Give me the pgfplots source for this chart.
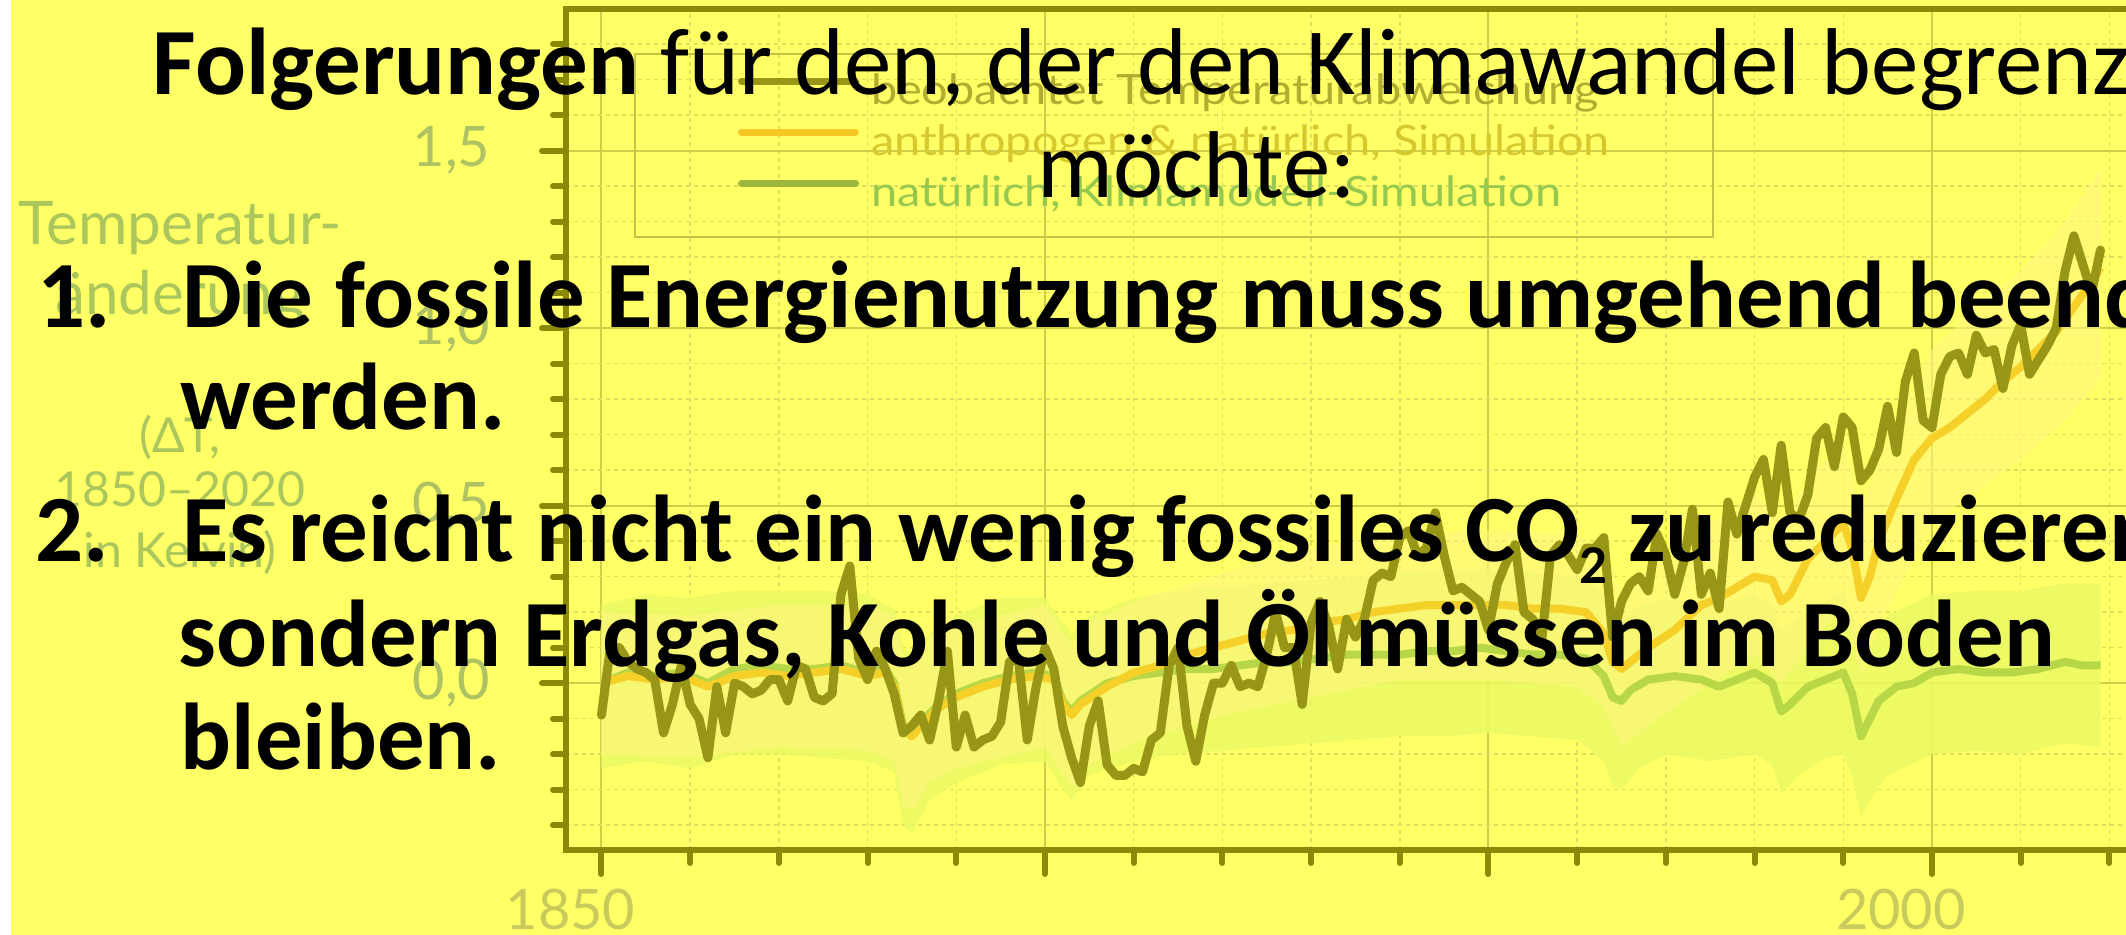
\documentclass[border=0pt]{standalone}
\usepackage{fontspec}
\setmainfont{Carlito}
\newfontfamily\lato{Lato}
\newfontfamily\latoleg[FakeStretch=1.12]{Lato}
\usepackage{pgfplots}
\usepackage{pgfplotstable}
\pgfplotsset{compat=1.18}

\definecolor{bgyellow}{RGB}{255,255,102}
\definecolor{axisol}{RGB}{138,138,8}
\definecolor{gridmaj}{RGB}{206,206,72}
\definecolor{gridmin}{RGB}{222,222,96}
\definecolor{ticklab}{RGB}{174,194,100}
\definecolor{xticklab}{RGB}{200,202,92}
\definecolor{ylab}{RGB}{170,198,92}
\definecolor{obsline}{RGB}{152,150,22}
\definecolor{antline}{RGB}{245,208,40}
\definecolor{natline}{RGB}{184,215,70}
\definecolor{legobs}{RGB}{178,172,48}
\definecolor{legant}{RGB}{215,200,45}
\definecolor{legnat}{RGB}{150,200,80}
\definecolor{legbox}{RGB}{195,195,70}
\definecolor{bandnat}{RGB}{236,250,100}
\definecolor{bandant}{RGB}{255,246,125}

% beobachtete Temperaturabweichung (K, relativ zu 1850-1900)
\pgfplotstableread{
year val
1850 -0.09
1851 0.10
1852 0.10
1853 0.06
1854 0.04
1855 0.03
1856 0.01
1857 -0.14
1858 -0.06
1859 0.05
1860 -0.06
1861 -0.10
1862 -0.21
1863 -0.01
1864 -0.14
1865 0.00
1866 -0.01
1867 -0.03
1868 -0.02
1869 0.01
1870 0.01
1871 -0.05
1872 0.05
1873 0.04
1874 -0.04
1875 -0.05
1876 -0.03
1877 0.25
1878 0.33
1879 0.07
1880 0.01
1881 0.09
1882 0.04
1883 -0.03
1884 -0.14
1885 -0.12
1886 -0.09
1887 -0.16
1888 -0.05
1889 0.09
1890 -0.18
1891 -0.09
1892 -0.18
1893 -0.16
1894 -0.15
1895 -0.11
1896 0.06
1897 0.07
1898 -0.16
1899 -0.01
1900 0.10
1901 0.04
1902 -0.12
1903 -0.21
1904 -0.28
1905 -0.12
1906 -0.05
1907 -0.23
1908 -0.26
1909 -0.26
1910 -0.24
1911 -0.25
1912 -0.16
1913 -0.14
1914 0.05
1915 0.10
1916 -0.12
1917 -0.22
1918 -0.09
1919 0.00
1920 0.00
1921 0.05
1922 -0.01
1923 0.00
1924 -0.01
1925 0.08
1926 0.20
1927 0.10
1928 0.10
1929 -0.06
1930 0.17
1931 0.23
1932 0.16
1933 0.04
1934 0.18
1935 0.13
1936 0.18
1937 0.29
1938 0.31
1939 0.30
1940 0.41
1941 0.43
1942 0.36
1943 0.38
1944 0.48
1945 0.36
1946 0.26
1947 0.27
1948 0.25
1949 0.23
1950 0.15
1951 0.28
1952 0.34
1953 0.39
1954 0.20
1955 0.18
1956 0.12
1957 0.36
1958 0.39
1959 0.36
1960 0.32
1961 0.38
1962 0.38
1963 0.41
1964 0.13
1965 0.23
1966 0.28
1967 0.30
1968 0.26
1969 0.42
1970 0.36
1971 0.25
1972 0.34
1973 0.49
1974 0.25
1975 0.31
1976 0.21
1977 0.51
1978 0.42
1979 0.50
1980 0.58
1981 0.63
1982 0.48
1983 0.67
1984 0.48
1985 0.46
1986 0.53
1987 0.69
1988 0.72
1989 0.61
1990 0.75
1991 0.72
1992 0.57
1993 0.60
1994 0.66
1995 0.78
1996 0.65
1997 0.85
1998 0.93
1999 0.74
2000 0.72
2001 0.87
2002 0.92
2003 0.93
2004 0.87
2005 0.98
2006 0.93
2007 0.94
2008 0.83
2009 0.95
2010 1.01
2011 0.87
2012 0.91
2013 0.95
2014 1.00
2015 1.16
2016 1.26
2017 1.18
2018 1.10
2019 1.22
}\obs

% anthropogen & natuerlich, Simulation (Mittel)
\pgfplotstableread{
year val
1850 0.00
1853 0.02
1856 0.01
1859 0.02
1862 -0.01
1865 0.02
1868 0.03
1871 0.02
1874 0.03
1877 0.04
1880 0.02
1882 0.03
1883 -0.01
1884 -0.13
1885 -0.15
1886 -0.12
1888 -0.07
1890 -0.04
1893 -0.01
1896 0.01
1899 0.02
1901 0.01
1902 -0.06
1903 -0.09
1904 -0.06
1907 -0.01
1910 0.03
1913 0.05
1916 0.08
1919 0.10
1922 0.12
1925 0.14
1928 0.15
1931 0.17
1934 0.18
1937 0.20
1940 0.21
1943 0.22
1946 0.22
1949 0.22
1952 0.22
1955 0.21
1958 0.21
1961 0.20
1963 0.14
1964 0.06
1965 0.04
1966 0.06
1968 0.10
1971 0.15
1974 0.22
1976 0.24
1978 0.27
1980 0.30
1982 0.29
1983 0.23
1984 0.25
1986 0.35
1988 0.40
1990 0.45
1991 0.38
1992 0.24
1993 0.30
1994 0.40
1996 0.52
1998 0.63
2000 0.69
2002 0.72
2004 0.76
2006 0.80
2008 0.85
2010 0.89
2012 0.94
2014 0.99
2016 1.06
2018 1.13
2019 1.17
}\ant

% natuerlich, Klimamodell-Simulation (Mittel)
\pgfplotstableread{
year val
1850 0.00
1853 0.03
1856 0.02
1859 0.03
1862 0.00
1865 0.04
1868 0.05
1871 0.04
1874 0.04
1877 0.05
1880 0.03
1882 0.04
1883 0.00
1884 -0.12
1885 -0.14
1886 -0.11
1888 -0.06
1890 -0.03
1893 0.00
1896 0.02
1899 0.03
1901 0.02
1902 -0.05
1903 -0.08
1904 -0.05
1907 0.00
1910 0.02
1913 0.03
1916 0.04
1919 0.04
1922 0.05
1925 0.06
1928 0.06
1931 0.07
1934 0.08
1937 0.08
1940 0.08
1943 0.09
1946 0.09
1949 0.10
1952 0.09
1955 0.08
1958 0.08
1961 0.07
1963 0.02
1964 -0.04
1965 -0.05
1966 -0.02
1968 0.01
1971 0.02
1974 0.01
1976 -0.01
1978 0.01
1980 0.03
1982 0.00
1983 -0.08
1984 -0.06
1986 -0.01
1988 0.01
1990 0.03
1991 -0.03
1992 -0.15
1993 -0.10
1994 -0.05
1996 -0.01
1998 0.00
2000 0.03
2003 0.04
2006 0.03
2009 0.03
2012 0.04
2015 0.06
2017 0.05
2019 0.05
}\nat

% Bandbreite natuerlich: obere Grenze vorwaerts, untere rueckwaerts
\pgfplotstableread{
year val
1850 0.22
1855 0.25
1860 0.24
1865 0.26
1870 0.26
1875 0.26
1880 0.25
1883 0.21
1884 0.10
1885 0.08
1887 0.14
1890 0.19
1895 0.24
1900 0.24
1902 0.17
1903 0.14
1905 0.19
1910 0.24
1915 0.26
1920 0.27
1925 0.28
1930 0.29
1935 0.30
1940 0.31
1945 0.32
1950 0.32
1955 0.31
1960 0.30
1963 0.25
1964 0.19
1965 0.18
1967 0.22
1970 0.24
1975 0.22
1980 0.25
1982 0.22
1983 0.15
1985 0.19
1988 0.23
1990 0.25
1991 0.19
1992 0.08
1993 0.13
1995 0.19
2000 0.25
2005 0.26
2010 0.26
2015 0.28
2019 0.28
2019 -0.18
2015 -0.17
2010 -0.20
2005 -0.19
2000 -0.20
1995 -0.26
1993 -0.33
1992 -0.38
1991 -0.26
1990 -0.20
1988 -0.21
1985 -0.26
1983 -0.31
1982 -0.23
1980 -0.20
1975 -0.22
1970 -0.20
1967 -0.24
1965 -0.30
1964 -0.29
1963 -0.22
1960 -0.16
1955 -0.15
1950 -0.14
1945 -0.15
1940 -0.15
1935 -0.16
1930 -0.17
1925 -0.18
1920 -0.19
1915 -0.20
1910 -0.22
1905 -0.26
1903 -0.33
1902 -0.30
1900 -0.22
1895 -0.23
1890 -0.28
1887 -0.33
1885 -0.42
1884 -0.40
1883 -0.25
1880 -0.22
1875 -0.21
1870 -0.20
1865 -0.20
1860 -0.24
1855 -0.22
1850 -0.24
}\natband

% Bandbreite anthropogen & natuerlich
\pgfplotstableread{
year val
1850 0.20
1860 0.19
1870 0.22
1880 0.22
1883 0.19
1884 0.08
1885 0.06
1887 0.13
1890 0.16
1900 0.22
1902 0.14
1903 0.11
1905 0.17
1910 0.23
1920 0.31
1930 0.38
1940 0.42
1950 0.43
1960 0.42
1963 0.36
1965 0.26
1968 0.32
1975 0.45
1980 0.53
1983 0.46
1987 0.60
1990 0.68
1992 0.48
1994 0.64
2000 0.94
2005 1.06
2010 1.16
2015 1.30
2019 1.45
2019 0.86
2015 0.74
2010 0.63
2005 0.54
2000 0.45
1994 0.16
1992 0.01
1990 0.22
1987 0.13
1983 0.00
1980 0.08
1975 0.00
1968 -0.12
1965 -0.18
1963 -0.07
1960 -0.01
1950 0.01
1940 0.01
1930 -0.04
1920 -0.09
1910 -0.17
1905 -0.23
1903 -0.29
1902 -0.26
1900 -0.18
1890 -0.24
1887 -0.28
1885 -0.36
1884 -0.34
1883 -0.22
1880 -0.19
1870 -0.18
1860 -0.21
1850 -0.20
}\antband

\begin{document}
\begin{tikzpicture}
\fill[bgyellow] (0,0) rectangle (212.6mm,93.5mm);
\fill[white] (0,0) rectangle (1.1mm,93.5mm);

\begin{axis}[
    at={(56.6mm,8.5mm)}, anchor=south west,
    x=0.887mm, y=35.5mm,
    xmin=1846, xmax=2026, ymin=-0.47, ymax=1.90,
    axis line style={draw=axisol, line width=0.6mm},
    xtick={1850,1900,1950,2000},
    xticklabels={1850,,,2000},
    minor xtick={1860,1870,1880,1890,1910,1920,1930,1940,1960,1970,1980,1990,2010,2020},
    ytick={0,0.5,1,1.5},
    minor ytick={-0.4,-0.3,-0.2,-0.1,0.1,0.2,0.3,0.4,0.6,0.7,0.8,0.9,1.1,1.2,1.3,1.4,1.6,1.7,1.8},
    xtick pos=bottom, ytick pos=left,
    tick align=outside,
    major tick length=2.4mm, minor tick length=1.3mm,
    tick style={draw=axisol, line width=0.6mm, line cap=round},
    grid=both,
    major grid style={draw=gridmaj, line width=0.2mm, solid},
    minor grid style={draw=gridmin, line width=0.15mm, dash pattern=on 0.4mm off 0.4mm},
    /pgf/number format/fixed,
    /pgf/number format/fixed zerofill,
    /pgf/number format/precision=1,
    /pgf/number format/use comma,
    /pgf/number format/assume math mode=true,
    tick label style={font=\lato\fontsize{15.9pt}{17pt}\selectfont, text=ticklab, inner sep=0pt},
    yticklabel style={anchor=east, xshift=-5.1mm},
    xticklabel style={anchor=north, yshift=-1.4mm, xshift=-3.1mm, text=xticklab},
    legend style={at={(0.0426,0.9477)}, anchor=north west,
        draw=legbox, line width=0.2mm, fill=none,
        font=\latoleg\fontsize{11.9pt}{13pt}\selectfont,
        inner xsep=10.3mm, inner ysep=1.5mm,
        nodes={inner sep=0pt, text height=3.6mm, text depth=1.5mm},
        /tikz/every odd column/.append style={column sep=1.2mm},
        cells={anchor=west}},
    legend image code/.code={\draw[#1, line cap=round] (0.35mm,1.3mm) -- (11.75mm,1.3mm);},
]
% Bandbreiten
\addplot[fill=bandnat, fill opacity=0.85, draw=none, forget plot] table[x=year, y=val] {\natband} -- cycle;
\addplot[fill=bandant, fill opacity=0.6, draw=none, forget plot] table[x=year, y=val] {\antband} -- cycle;
% Linien
\addplot[natline, line width=0.8mm, line join=round, forget plot] table[x=year, y=val] {\nat};
\addplot[antline, line width=0.8mm, line join=round, forget plot] table[x=year, y=val] {\ant};
\addplot[obsline, line width=0.9mm, line join=round, line cap=round, forget plot] table[x=year, y=val] {\obs};
% Legende
\addlegendimage{draw=obsline, line width=0.7mm}
\addlegendentry{\textcolor{legobs}{beobachtet Temperaturabweichung}}
\addlegendimage{draw=antline!90!orange, line width=0.7mm}
\addlegendentry{\textcolor{legant}{anthropogen \& natürlich, Simulation}}
\addlegendimage{draw=natline!85!black, line width=0.7mm}
\addlegendentry{\textcolor{legnat}{natürlich, Klimamodell-Simulation}}
\end{axis}

\begin{scope}[x=0.1mm, y=0.1mm]
% Achsenbeschriftung
\node[anchor=base, inner sep=0pt, text=ylab, font=\lato\fontsize{17.1pt}{18pt}\selectfont] at (180,690) {Temperatur-};
\node[anchor=base, inner sep=0pt, text=ylab, font=\lato\fontsize{17.1pt}{18pt}\selectfont] at (180,620) {änderung};
\node[anchor=base, inner sep=0pt, text=ylab, font=\lato\fontsize{13.7pt}{15pt}\selectfont] at (180,482) {(ΔT,};
\node[anchor=base, inner sep=0pt, text=ylab, font=\lato\fontsize{13.7pt}{15pt}\selectfont] at (180,428) {1850–2020};
\node[anchor=base, inner sep=0pt, text=ylab, font=\lato\fontsize{13.7pt}{15pt}\selectfont] at (180,367) {in Kelvin)};

% Folien-Text
\node[anchor=base west, inner sep=0pt, font=\fontsize{27pt}{32pt}\selectfont] at (152,840)
  {\textbf{Folgerungen} für den, der den Klimawandel begrenzen};
\node[anchor=base west, inner sep=0pt, font=\fontsize{27pt}{32pt}\selectfont] at (1037,737) {möchte:};

\begin{scope}[every node/.style={anchor=base west, inner sep=0pt, font=\fontsize{27pt}{32pt}\selectfont\bfseries}]
\node at (37,607) {1.};
\node at (182,607) {Die fossile Energienutzung muss umgehend beendet};
\node at (180,505) {werden.};
\node at (35,373) {2.};
\node at (182,373) {Es reicht nicht ein wenig fossiles CO\raisebox{-0.23em}{\fontsize{15.6pt}{16pt}\selectfont 2} zu reduzieren,};
\node at (178,268) {sondern Erdgas, Kohle und Öl müssen im Boden};
\node at (180,165) {bleiben.};
\end{scope}
\end{scope}

\pgfresetboundingbox
\path (0,0) rectangle (212.6mm,93.5mm);
\end{tikzpicture}
\end{document}
